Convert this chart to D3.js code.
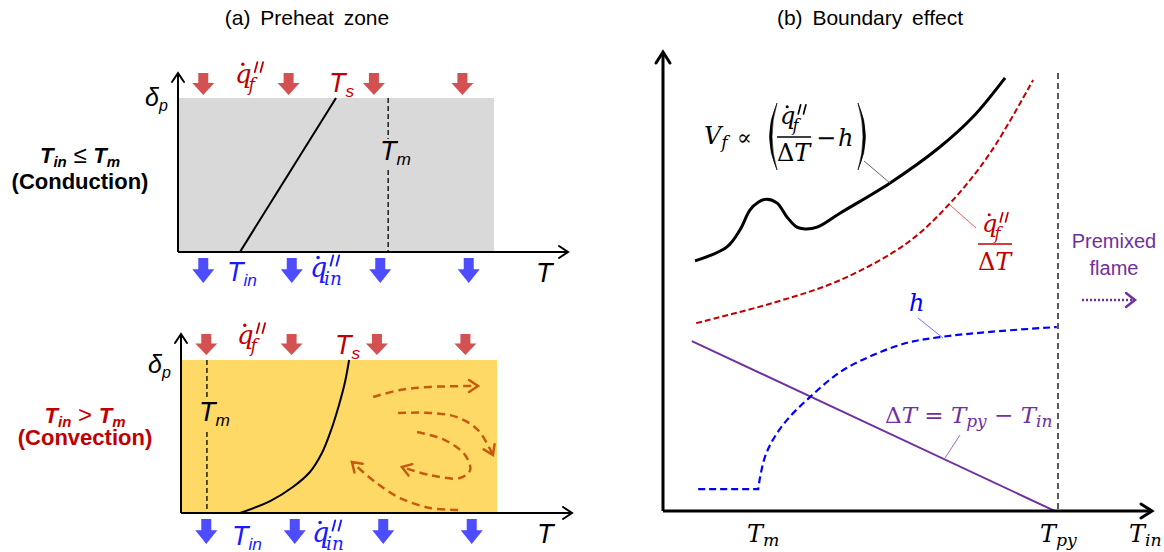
<!DOCTYPE html>
<html>
<head>
<style>
  body { margin: 0; background: #fff; }
  .title { font: 21px "Liberation Sans", Arial, sans-serif; text-anchor: middle; word-spacing: 4px; }
  .sans { font-family: "Liberation Sans", Arial, sans-serif; }
  .math { font-family: "DejaVu Serif", "Liberation Serif", serif; font-style: italic; }
  .up { font-style: normal; }
</style>
</head>
<body>
<div id="chart"></div>
<script src="https://d3js.org/d3.v7.min.js"></script>
<script>
// ---------- data (schematic units, 0..100 per panel) ----------
// (a) preheat zone
const heatArrowsTop = [8, 35, 62, 90];
const heatArrowsBottom = [8, 36, 64, 92];
const conductionProfile = [[19.6, 0], [50, 100]];
const convectionProfile = [[18.7, 0], [28.2, 7.8], [35.4, 17.0], [40.8, 26.8], [44.6, 39.2], [47.5, 54.2],
  [50.0, 70.6], [51.9, 85.6], [53.2, 100]];
const tmConduction = 66.5;
const tmConvection = 8.2;
const flowArrows = [
  [[60.8, 75.8], [69.3, 80.4], [78.8, 82.4], [94.0, 83.0]],
  [[68.7, 65.4], [78.8, 65.4], [87.3, 62.7], [94.0, 54.2], [98.7, 37.9]],
  [[74.7, 52.9], [83.5, 47.7], [89.9, 37.9], [91.5, 28.1], [88.3, 22.9], [78.8, 24.8], [69.9, 30.1]],
  [[87.7, 2.0], [78.8, 3.3], [69.3, 9.8], [61.4, 20.3], [54.1, 33.3]]
];
// (b) boundary effect
const vfCurve = [[8.1, 57.1], [16.2, 60.3], [19.5, 64.2], [22.0, 68.7], [24.1, 70.5], [26.3, 71.2], [28.9, 70.3],
  [31.4, 67.1], [33.9, 64.8], [35.9, 64.4], [39.0, 64.8], [44.8, 68.0], [57.5, 74.9], [70.1, 83.1], [78.5, 90.0], [86.6, 98.9]];
const qCurve = [[8.4, 42.9], [27.8, 47.5], [44.8, 52.7], [61.8, 61.2], [72.7, 70.3], [82.8, 81.7], [93.7, 98.4]];
const hCurve = [[8.9, 5.0], [24.1, 5.0], [24.6, 7.8], [25.8, 12.3], [27.8, 16.2], [31.4, 20.8], [37.2, 26.0],
  [44.8, 31.7], [53.2, 35.6], [61.8, 38.4], [70.1, 39.7], [82.8, 40.9], [99.7, 42.0]];
const dTLine = [[7.3, 38.8], [99.2, 0]];
const tmB = 24.6, tpyB = 100;

const W = 1164, H = 552;
const svg = d3.select("#chart").append("svg").attr("width", W).attr("height", H);
svg.append("rect").attr("width", W).attr("height", H).attr("fill", "#fff");
const defs = svg.append("defs");

function chevron(id, color, len, half, sw) {
  defs.append("marker").attr("id", id)
    .attr("viewBox", "-20 -20 40 40").attr("markerWidth", 40).attr("markerHeight", 40)
    .attr("markerUnits", "userSpaceOnUse").attr("orient", "auto").attr("refX", 0).attr("refY", 0)
    .append("path").attr("d", `M${-len},${-half} L0,0 L${-len},${half}`)
    .attr("fill", "none").attr("stroke", color).attr("stroke-width", sw)
    .attr("stroke-linecap", "round").attr("stroke-linejoin", "miter");
}
chevron("axA", "#000", 9, 6, 2);
chevron("axB", "#000", 11, 7, 3);
chevron("flow", "#c55a11", 9, 6, 2.5);
chevron("pm", "#7030a0", 9, 7, 2.5);

// q with dot, double prime and subscript
function qdot(g, x, y, sub, color, s) {
  g.append("text").attr("class", "math").attr("x", x).attr("y", y).attr("fill", color)
    .style("font-size", s + "px").text("q");
  g.append("circle").attr("cx", x + 0.3 * s).attr("cy", y - 0.72 * s).attr("r", s * 0.065).attr("fill", color);
  [0, 1].forEach(k => {
    const px = x + 0.76 * s + k * 0.22 * s;
    g.append("line").attr("x1", px + 0.1 * s).attr("y1", y - 0.8 * s).attr("x2", px).attr("y2", y - 0.42 * s)
      .attr("stroke", color).attr("stroke-width", s * 0.07).attr("stroke-linecap", "round");
  });
  g.append("text").attr("class", "math").attr("x", x + 0.52 * s).attr("y", y + 0.3 * s).attr("fill", color)
    .style("font-size", 0.68 * s + "px").text(sub);
}

function sansSub(g, x, y, main, sub, color, size) {
  const t = g.append("text").attr("class", "sans").attr("x", x).attr("y", y).attr("fill", color)
    .style("font-size", size + "px").style("font-style", "italic");
  t.append("tspan").text(main);
  t.append("tspan").attr("dy", size * 0.2).style("font-size", size * 0.64 + "px").text(sub);
  return t;
}

// ---------- titles ----------
svg.append("text").attr("class", "title").attr("x", 307).attr("y", 25).text("(a) Preheat zone");
svg.append("text").attr("class", "title").attr("x", 870).attr("y", 25).text("(b) Boundary effect");

// ---------- panel (a) ----------
function preheat(cfg) {
  const g = svg.append("g");
  const x = d3.scaleLinear().domain([0, 100]).range(cfg.xr);
  const y = d3.scaleLinear().domain([0, 100]).range(cfg.yr);
  g.append("rect").attr("x", x(0)).attr("y", y(100)).attr("width", x(100) - x(0)).attr("height", y(0) - y(100))
    .attr("fill", cfg.fill);
  // T_m dashed line
  g.append("line").attr("x1", x(cfg.tm)).attr("x2", x(cfg.tm)).attr("y1", y(100)).attr("y2", y(0))
    .attr("stroke", "#000").attr("stroke-width", 1.3).attr("stroke-dasharray", "5,3");
  g.append("rect").attr("x", cfg.tmLab[0]).attr("y", cfg.tmLab[1] - 21).attr("width", 28).attr("height", 30)
    .attr("fill", cfg.fill);
  sansSub(g, cfg.tmLab[0], cfg.tmLab[1], "T", "m", "#000", 27);
  // profile
  g.append("path").datum(cfg.profile)
    .attr("d", d3.line().x(d => x(d[0])).y(d => y(d[1])).curve(d3.curveCatmullRom.alpha(0.5)))
    .attr("fill", "none").attr("stroke", "#000").attr("stroke-width", 2);
  // flow arrows
  (cfg.flows || []).forEach(f => {
    g.append("path").datum(f)
      .attr("d", d3.line().x(d => x(d[0])).y(d => y(d[1])).curve(d3.curveCatmullRom))
      .attr("fill", "none").attr("stroke", "#c55a11").attr("stroke-width", 2.5)
      .attr("stroke-dasharray", "8,5").attr("marker-end", "url(#flow)");
  });
  // axes
  g.append("line").attr("x1", x(0)).attr("y1", y(0)).attr("x2", x(0)).attr("y2", cfg.yTip)
    .attr("stroke", "#000").attr("stroke-width", 2).attr("marker-end", "url(#axA)");
  g.append("line").attr("x1", x(0)).attr("y1", y(0)).attr("x2", cfg.xTip).attr("y2", y(0))
    .attr("stroke", "#000").attr("stroke-width", 2).attr("marker-end", "url(#axA)");
  // heat flux block arrows
  function block(cx, top, bot, color) {
    const h = bot - top, sw = 5, hw = 11, sh = h * 0.45;
    g.append("path").attr("d",
      `M${cx - sw},${top} L${cx + sw},${top} L${cx + sw},${top + sh} L${cx + hw},${top + sh} L${cx},${bot} L${cx - hw},${top + sh} L${cx - sw},${top + sh} Z`)
      .attr("fill", color);
  }
  heatArrowsTop.forEach(v => block(x(v), y(100) - cfg.topGap[0], y(100) - cfg.topGap[1], "#d35151"));
  heatArrowsBottom.forEach(v => block(x(v), y(0) + 6, y(0) + 31, "#4d4dff"));
  // labels
  qdot(g, cfg.qf[0], cfg.qf[1], "f", "#c00000", 26);
  sansSub(g, cfg.ts[0], cfg.ts[1], "T", "s", "#c00000", 27);
  sansSub(g, cfg.dp[0], cfg.dp[1], "δ", "p", "#000", 25);
  sansSub(g, cfg.tin[0], cfg.tin[1], "T", "in", "#1a1aff", 27);
  qdot(g, cfg.qin[0], cfg.qin[1], "in", "#1a1aff", 27);
  g.append("text").attr("class", "sans").attr("x", cfg.tt[0]).attr("y", cfg.tt[1])
    .style("font-size", "27px").style("font-style", "italic").text("T");
  // regime label
  const c = cfg.regColor;
  const t1 = g.append("text").attr("class", "sans").attr("x", cfg.reg[0]).attr("y", cfg.reg[1])
    .attr("text-anchor", "middle").attr("fill", c).style("font-size", "22px").style("font-weight", "bold");
  t1.append("tspan").style("font-style", "italic").text("T");
  t1.append("tspan").style("font-style", "italic").style("font-size", "15px").attr("dy", 4).text("in");
  t1.append("tspan").attr("dy", -4).style("font-weight", "normal").style("font-size", "24px").text(cfg.rel);
  t1.append("tspan").style("font-style", "italic").text("T");
  t1.append("tspan").style("font-style", "italic").style("font-size", "15px").attr("dy", 4).text("m");
  g.append("text").attr("class", "sans").attr("x", cfg.reg[0]).attr("y", cfg.reg[1] + cfg.regGap)
    .attr("text-anchor", "middle").attr("fill", c).style("font-size", "22px").style("font-weight", "bold")
    .text(cfg.mode);
}

preheat({
  xr: [178, 494], yr: [252, 98], fill: "#d9d9d9", tm: tmConduction, tmLab: [380, 160],
  profile: conductionProfile, yTip: 73, xTip: 568, topGap: [25, 3],
  qf: [235, 83], ts: [329, 92], dp: [145, 106], tin: [227, 281], qin: [310, 277], tt: [536, 282],
  reg: [80, 163], rel: " \u2264 ", regGap: 26, regColor: "#000", mode: "(Conduction)"
});
preheat({
  xr: [181, 497], yr: [513, 360], fill: "#ffd966", tm: tmConvection, tmLab: [199, 421],
  profile: convectionProfile, flows: flowArrows, yTip: 334, xTip: 572, topGap: [26, 5],
  qf: [237, 344], ts: [335, 354], dp: [148, 373], tin: [232, 545], qin: [312, 542], tt: [537, 543],
  reg: [85, 423], rel: " > ", regGap: 22, regColor: "#c00000", mode: "(Convection)"
});

// ---------- panel (b) ----------
const gb = svg.append("g");
const xb = d3.scaleLinear().domain([0, 100]).range([663, 1058]);
const yb = d3.scaleLinear().domain([0, 100]).range([511, 73]);
const lineB = d3.line().x(d => xb(d[0])).y(d => yb(d[1])).curve(d3.curveCatmullRom.alpha(0.5));

gb.append("line").attr("x1", xb(tpyB)).attr("x2", xb(tpyB)).attr("y1", yb(100)).attr("y2", yb(0))
  .attr("stroke", "#000").attr("stroke-width", 1.3).attr("stroke-dasharray", "6,4");
gb.append("path").datum(dTLine).attr("d", lineB).attr("fill", "none").attr("stroke", "#7030a0").attr("stroke-width", 2);
// h: flat part below T_m, then rising part
gb.append("path").datum(hCurve).attr("d", d => {
  const flat = d3.line().x(p => xb(p[0])).y(p => yb(p[1]))(d.slice(0, 2));
  return flat + lineB(d.slice(1)).replace(/^M/, "L");
}).attr("fill", "none").attr("stroke", "#0000ff").attr("stroke-width", 2.2).attr("stroke-dasharray", "7,4");
gb.append("path").datum(qCurve).attr("d", lineB).attr("fill", "none").attr("stroke", "#c00000")
  .attr("stroke-width", 2).attr("stroke-dasharray", "6,3");
gb.append("path").datum(vfCurve).attr("d", lineB).attr("fill", "none").attr("stroke", "#000").attr("stroke-width", 3);

gb.append("line").attr("x1", xb(0)).attr("y1", yb(0)).attr("x2", xb(0)).attr("y2", 52)
  .attr("stroke", "#000").attr("stroke-width", 3).attr("marker-end", "url(#axB)");
gb.append("line").attr("x1", xb(0)).attr("y1", yb(0)).attr("x2", 1152).attr("y2", yb(0))
  .attr("stroke", "#000").attr("stroke-width", 3).attr("marker-end", "url(#axB)");

function mathSub(x, y, main, sub, color, size) {
  const t = gb.append("text").attr("class", "math").attr("x", x).attr("y", y).attr("fill", color)
    .style("font-size", size + "px");
  t.append("tspan").text(main);
  t.append("tspan").attr("dy", size * 0.18).style("font-size", size * 0.72 + "px").text(sub);
  return t;
}
mathSub(747, 542, "T", "m", "#000", 24);
mathSub(1040, 542, "T", "py", "#000", 24);
mathSub(1129, 542, "T", "in", "#000", 24);

function paren(x, top, bot, dir) {
  const mid = (top + bot) / 2;
  gb.append("path")
    .attr("d", `M${x},${top} Q${x - dir * 15},${mid} ${x},${bot} Q${x - dir * 10},${mid} ${x},${top} Z`)
    .attr("fill", "#000").attr("stroke", "#000").attr("stroke-width", 0.6);
}

// V_f label
mathSub(704, 144, "V", "f", "#000", 24);
gb.append("text").attr("x", 737).attr("y", 145).style("font-family", "'DejaVu Serif', serif").style("font-size", "22px").text("\u221D");
paren(777, 103, 170, 1);
paren(858, 103, 170, -1);
qdot(gb, 780, 124, "f", "#000", 24);
gb.append("line").attr("x1", 777).attr("x2", 811).attr("y1", 137).attr("y2", 137).attr("stroke", "#000").attr("stroke-width", 1.3);
const dT1 = gb.append("text").attr("class", "math").attr("x", 777).attr("y", 161).style("font-size", "24px");
dT1.append("tspan").attr("class", "up").text("\u0394");
dT1.append("tspan").text("T");
gb.append("text").attr("x", 816).attr("y", 146).style("font-family", "'DejaVu Serif', serif").style("font-size", "24px").text("\u2212");
gb.append("text").attr("class", "math").attr("x", 838).attr("y", 146).style("font-size", "24px").text("h");
gb.append("line").attr("x1", 864).attr("y1", 161).attr("x2", 890).attr("y2", 183).attr("stroke", "#666").attr("stroke-width", 1);

// q/dT label
qdot(gb, 982, 232, "f", "#c00000", 24);
gb.append("line").attr("x1", 978).attr("x2", 1012).attr("y1", 244).attr("y2", 244).attr("stroke", "#c00000").attr("stroke-width", 1.3);
const dT2 = gb.append("text").attr("class", "math").attr("x", 978).attr("y", 270).attr("fill", "#c00000").style("font-size", "24px");
dT2.append("tspan").attr("class", "up").text("\u0394");
dT2.append("tspan").text("T");
gb.append("line").attr("x1", 950).attr("y1", 205).attr("x2", 976).attr("y2", 228).attr("stroke", "#e06060").attr("stroke-width", 1);

// h label
gb.append("text").attr("class", "math").attr("x", 909).attr("y", 311).attr("fill", "#0000ff").style("font-size", "24px").text("h");
gb.append("line").attr("x1", 918).attr("y1", 318).attr("x2", 943).attr("y2", 338).attr("stroke", "#6f6fff").attr("stroke-width", 1);

// dT label
const dT3 = gb.append("text").attr("class", "math").attr("x", 885).attr("y", 423).attr("fill", "#7030a0").style("font-size", "23px");
dT3.append("tspan").attr("class", "up").text("\u0394");
dT3.append("tspan").text("T ");
dT3.append("tspan").attr("class", "up").text("= ");
dT3.append("tspan").text("T");
dT3.append("tspan").attr("dy", 4).style("font-size", "17px").text("py");
dT3.append("tspan").attr("dy", -4).attr("class", "up").text(" \u2212 ");
dT3.append("tspan").text("T");
dT3.append("tspan").attr("dy", 4).style("font-size", "17px").text("in");
gb.append("line").attr("x1", 960).attr("y1", 435).attr("x2", 945).attr("y2", 458).attr("stroke", "#9a6cc0").attr("stroke-width", 1);

// premixed flame
gb.append("text").attr("class", "sans").attr("x", 1114).attr("y", 248).attr("text-anchor", "middle")
  .attr("fill", "#7030a0").style("font-size", "20px").text("Premixed");
gb.append("text").attr("class", "sans").attr("x", 1114).attr("y", 275).attr("text-anchor", "middle")
  .attr("fill", "#7030a0").style("font-size", "20px").text("flame");
gb.append("line").attr("x1", 1082).attr("y1", 300).attr("x2", 1135).attr("y2", 300)
  .attr("stroke", "#7030a0").attr("stroke-width", 2.5).attr("stroke-dasharray", "2,2").attr("marker-end", "url(#pm)");
</script>
</body>
</html>
